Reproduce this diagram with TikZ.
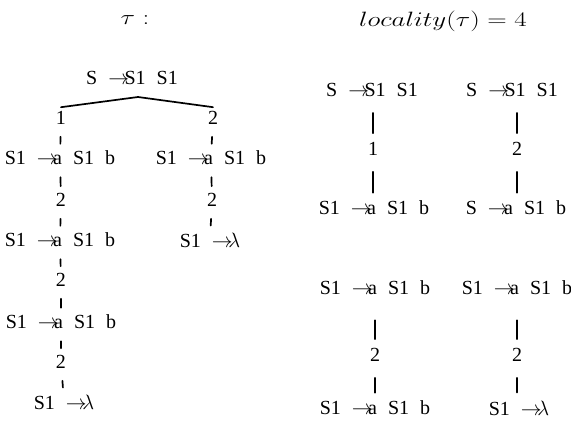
\documentclass[tikz,border=0pt]{standalone}
\usepackage{fontspec}
\setmainfont{Liberation Serif}
\usetikzlibrary{positioning}

% spacing inside a rule and the rule itself
\newcommand\rsp{\hskip.55em}
\newcommand\rul[2]{#1\rsp$\to$\kern-.22em#2}

\begin{document}
\begin{tikzpicture}[%
        x = 1pt,
        y = -1pt,
        line cap = round,
        font = \fontsize{20}{24}\selectfont,
        rule/.style = {inner sep = 0pt},
        num/.style = {inner sep = 0pt},
        head/.style = {font = \fontsize{20.74}{24}\selectfont},
        tick/.style = {line width = 1.7pt, shorten <= 12pt, shorten >= 7pt},
        barin/.style = {line width = 1.5pt, shorten >= 9pt},
        barout/.style = {line width = 1.5pt, shorten <= 16pt, shorten >= 8pt}
    ]

        \useasboundingbox (0, 0) rectangle (571, 429);

        % Titles.
        \node[head] (tau) at (135, 20) {\scalebox{1.3}[1]{$\tau :$}};
        \node[head] (loc) at (443, 21) {\scalebox{1.3}[1]{$locality(\tau) = 4$}};

        % The derivation tree.
        \node[rule] (r0) at (132, 78) {\rul{S}{S1\rsp S1}};
        \coordinate (peak) at (138, 97);
        \node[num] (k1) at (61, 118) {1};
        \node[num] (k2) at (213, 118) {2};
        \draw[line width = 1.7pt]
            ([yshift = 4pt]k1.north) -- (peak) -- ([yshift = 4pt]k2.north);

        % Left branch.
        \node[rule] (L1) at (60, 158) {\rul{S1}{a\rsp S1\rsp b}};
        \node[num]  (k3) at (61, 200) {2};
        \node[rule] (L2) at (60, 240) {\rul{S1}{a\rsp S1\rsp b}};
        \node[num]  (k4) at (61, 280) {2};
        \node[rule] (L3) at (61, 322) {\rul{S1}{a\rsp S1\rsp b}};
        \node[num]  (k5) at (61, 362) {2};
        \node[rule] (L4) at (64, 402) {\rul{S1}{$\lambda$}};

        % Right branch.
        \node[rule] (R1) at (211, 158) {\rul{S1}{a\rsp S1\rsp b}};
        \node[num]  (k6) at (212, 200) {2};
        \node[rule] (R2) at (210, 240) {\rul{S1}{$\lambda$}};

        \foreach \a/\b in {k1/L1, L1/k3, k3/L2, L2/k4, k4/L3, L3/k5, k5/L4,
                           k2/R1, R1/k6, k6/R2}{%
            \draw[tick] (\a) -- (\b);
        }

        % The pairs of rules.
        \node[rule] (P1) at (372, 90)  {\rul{S}{S1\rsp S1}};
        \node[num]  (m1) at (373, 149) {1};
        \node[rule] (Q1) at (374, 208) {\rul{S1}{a\rsp S1\rsp b}};

        \node[rule] (P2) at (512, 90)  {\rul{S}{S1\rsp S1}};
        \node[num]  (m2) at (517, 149) {2};
        \node[rule] (Q2) at (516, 208) {\rul{S}{a\rsp S1\rsp b}};

        \node[rule] (P3) at (375, 288) {\rul{S1}{a\rsp S1\rsp b}};
        \node[num]  (m3) at (375, 355) {2};
        \node[rule] (Q3) at (375, 408) {\rul{S1}{a\rsp S1\rsp b}};

        \node[rule] (P4) at (517, 288) {\rul{S1}{a\rsp S1\rsp b}};
        \node[num]  (m4) at (517, 355) {2};
        \node[rule] (Q4) at (519, 408) {\rul{S1}{$\lambda$}};

        \foreach \n/\s in {1/16, 2/16, 3/25, 4/25}{%
            \draw[barin, shorten <= \s pt] (P\n.south -| m\n) -- (m\n);
            \draw[barout] (m\n) -- (Q\n.north -| m\n);
        }
    \end{tikzpicture}
\end{document}
